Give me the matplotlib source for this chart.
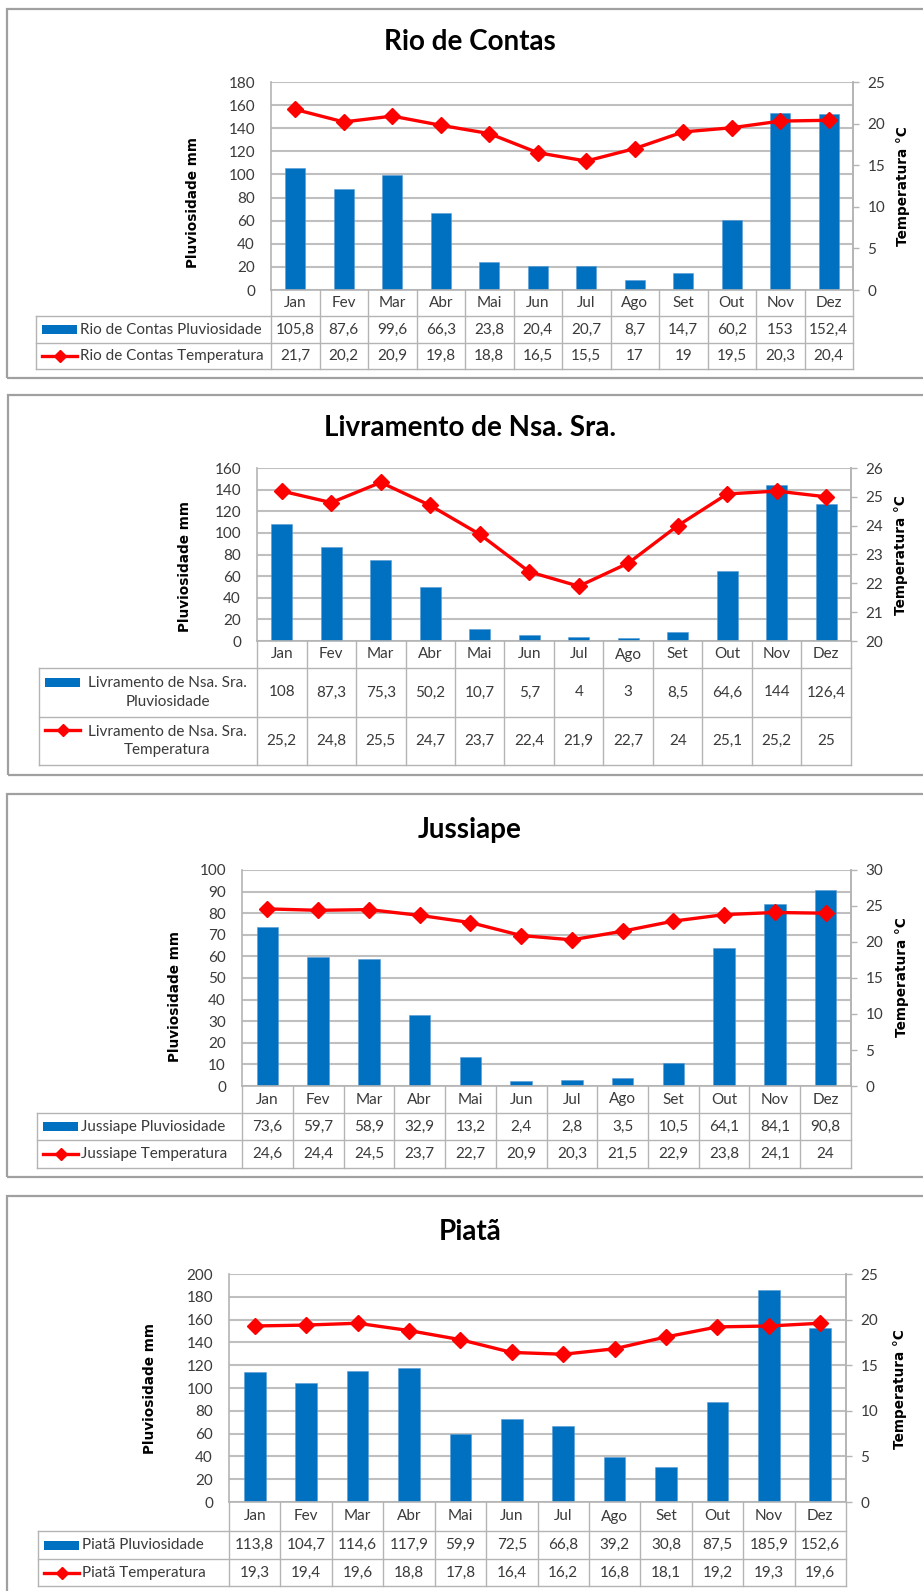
import matplotlib
matplotlib.use("Agg")
import matplotlib.pyplot as plt
import matplotlib.transforms as mtransforms
from matplotlib.lines import Line2D
from matplotlib.patches import Rectangle
import numpy as np

# ---------------------------------------------------------------- data
months = ["Jan", "Fev", "Mar", "Abr", "Mai", "Jun", "Jul", "Ago", "Set", "Out", "Nov", "Dez"]

stations = ["Rio de Contas", "Livramento de Nsa. Sra.", "Jussiape", "Piatã"]

rain_rio_de_contas = [105.8, 87.6, 99.6, 66.3, 23.8, 20.4, 20.7, 8.7, 14.7, 60.2, 153, 152.4]
temp_rio_de_contas = [21.7, 20.2, 20.9, 19.8, 18.8, 16.5, 15.5, 17, 19, 19.5, 20.3, 20.4]

rain_livramento = [108, 87.3, 75.3, 50.2, 10.7, 5.7, 4, 3, 8.5, 64.6, 144, 126.4]
temp_livramento = [25.2, 24.8, 25.5, 24.7, 23.7, 22.4, 21.9, 22.7, 24, 25.1, 25.2, 25]

rain_jussiape = [73.6, 59.7, 58.9, 32.9, 13.2, 2.4, 2.8, 3.5, 10.5, 64.1, 84.1, 90.8]
temp_jussiape = [24.6, 24.4, 24.5, 23.7, 22.7, 20.9, 20.3, 21.5, 22.9, 23.8, 24.1, 24]

rain_piata = [113.8, 104.7, 114.6, 117.9, 59.9, 72.5, 66.8, 39.2, 30.8, 87.5, 185.9, 152.6]
temp_piata = [19.3, 19.4, 19.6, 18.8, 17.8, 16.4, 16.2, 16.8, 18.1, 19.2, 19.3, 19.6]

rain_series = [rain_rio_de_contas, rain_livramento, rain_jussiape, rain_piata]
temp_series = [temp_rio_de_contas, temp_livramento, temp_jussiape, temp_piata]

# axis ranges: (min, max, step)
rain_axes = [(0, 180, 20), (0, 160, 20), (0, 100, 10), (0, 200, 20)]
temp_axes = [(0, 25, 5), (20, 26, 1), (0, 30, 5), (0, 25, 5)]

rain_label = "Pluviosidade mm"
temp_label = "Temperatura °C"

# ---------------------------------------------------------------- layout (pixels, y from top)
W, H = 923, 1591
layouts = [
    dict(box=(7, 9, 378), title=42, plot=(271, 853, 82, 290), rows=(316, 343, 369), tleft=36,
         ylab=(193, 202), y2lab=(903, 186), wrap=False),
    dict(box=(8, 395, 775), title=428, plot=(257, 851, 468, 641), rows=(668, 717, 765), tleft=39,
         ylab=(185, 567), y2lab=(901, 555), wrap=True),
    dict(box=(7, 794, 1177), title=830, plot=(242, 851, 870, 1086), rows=(1113, 1140, 1168), tleft=37,
         ylab=(175, 997), y2lab=(902, 977), wrap=False),
    dict(box=(7, 1196, 1620), title=1232, plot=(229, 846, 1274, 1502), rows=(1531, 1559, 1586), tleft=38,
         ylab=(150, 1388), y2lab=(900, 1389), wrap=False),
]

BLUE = "#0070C0"
RED = "#FF0000"
GRID = "#BFBFBF"
TABLE = "#B4B4B4"
BORDER = "#A0A0A0"
TXT = "#3a3a3a"
FONT = ["Lato", "DejaVu Sans"]
FS = 11

fig = plt.figure(figsize=(W / 100, H / 100), dpi=100)
fig.patch.set_facecolor("white")


def fx(px):
    return px / W


def fy(py):
    return 1 - py / H


def fmt(v):
    return f"{v:g}".replace(".", ",")


def fig_line(xs, ys, **kw):
    fig.add_artist(Line2D([fx(x) for x in xs], [fy(y) for y in ys], transform=fig.transFigure, **kw))


x = np.arange(len(months))

for name, rain, temp, ra, ta, L in zip(stations, rain_series, temp_series, rain_axes, temp_axes, layouts):
    bl, bt, bb = L["box"]
    fig.add_artist(Rectangle((fx(bl), fy(bb)), fx(940) - fx(bl), fy(bt) - fy(bb),
                             transform=fig.transFigure, fill=False, edgecolor=BORDER, lw=1.6))

    fig.text(fx(470), fy(L["title"]), name, ha="center", va="center",
             fontsize=20, fontweight="bold", family=FONT, color="black")

    pl, pr, pt, pb = L["plot"]
    ax = fig.add_axes([fx(pl), fy(pb), fx(pr) - fx(pl), fy(pt) - fy(pb)])
    ax.set_xlim(-0.5, len(months) - 0.5)
    ax.set_ylim(ra[0], ra[1])
    ax.set_yticks(np.arange(ra[0], ra[1] + ra[2] / 2, ra[2]))
    ax.bar(x, rain, width=0.42, color=BLUE, edgecolor="#5B9BD5", linewidth=0.4, zorder=2)
    ax.set_axisbelow(True)
    ax.yaxis.grid(True, color=GRID, lw=1.5)
    ax.set_xticks([])
    ax.tick_params(axis="y", length=0, pad=11.5, labelsize=FS, labelcolor=TXT)
    for lab in ax.get_yticklabels():
        lab.set_family(FONT)
    ax.spines["top"].set_visible(False)
    for s in ["left", "bottom", "right"]:
        ax.spines[s].set_color(TABLE)
        ax.spines[s].set_linewidth(1.2)

    ax2 = ax.twinx()
    ax2.set_ylim(ta[0], ta[1])
    ax2.set_yticks(np.arange(ta[0], ta[1] + ta[2] / 2, ta[2]))
    ax2.plot(x, temp, color=RED, lw=2.4, marker="D", ms=8, mfc=RED, mec=RED, zorder=3)
    ax2.tick_params(axis="y", length=4.5, width=1, color=TABLE, pad=6, labelsize=FS, labelcolor=TXT)
    for lab in ax2.get_yticklabels():
        lab.set_family(FONT)
    for s in ["top", "left", "bottom"]:
        ax2.spines[s].set_visible(False)
    ax2.spines["right"].set_color(TABLE)
    ax2.spines["right"].set_linewidth(1.2)

    # axis titles
    fig.text(fx(L["ylab"][0]), fy(L["ylab"][1]), rain_label, rotation=90, ha="center", va="center",
             fontsize=9.8, fontweight="bold", family="DejaVu Sans", color="black")
    fig.text(fx(L["y2lab"][0]), fy(L["y2lab"][1]), temp_label, rotation=90, ha="center", va="center",
             fontsize=9.8, fontweight="bold", family="DejaVu Sans", color="black")

    # data table below the plot
    hb, rs, tb = L["rows"]
    tl = L["tleft"]
    tr = mtransforms.blended_transform_factory(ax.transData, fig.transFigure)
    for b in np.arange(-0.5, len(months), 1.0):
        fig.add_artist(Line2D([b, b], [fy(pb), fy(tb)], transform=tr, color=TABLE, lw=1.0))
    fig_line([tl, tl], [hb, tb], color=TABLE, lw=1.0)
    for yy in (hb, rs, tb):
        fig_line([tl, pr], [yy, yy], color=TABLE, lw=1.0)

    for i, m in enumerate(months):
        fig.text(i, fy((pb + hb) / 2), m, transform=tr, ha="center", va="center",
                 fontsize=FS, family=FONT, color=TXT)
        fig.text(i, fy((hb + rs) / 2), fmt(rain[i]), transform=tr, ha="center", va="center",
                 fontsize=FS, family=FONT, color=TXT)
        fig.text(i, fy((rs + tb) / 2), fmt(temp[i]), transform=tr, ha="center", va="center",
                 fontsize=FS, family=FONT, color=TXT)

    # legend keys inside the label column
    r1 = (hb + rs) / 2
    r2 = (rs + tb) / 2
    if L["wrap"]:
        k1, k2 = r1 - 10.5, r2 - 11
    else:
        k1, k2 = r1, r2
    fig.add_artist(Rectangle((fx(tl + 6), fy(k1 + 4.5)), fx(tl + 41) - fx(tl + 6), 9 / H,
                             transform=fig.transFigure, color=BLUE, lw=0))
    fig.add_artist(Line2D([fx(tl + 6), fx(tl + 41)], [fy(k2), fy(k2)], transform=fig.transFigure,
                          color=RED, lw=2.4))
    fig.add_artist(Line2D([fx(tl + 23.5)], [fy(k2)], transform=fig.transFigure, marker="D", ms=6.5,
                          color=RED, lw=0))
    lab1 = f"{name} Pluviosidade"
    lab2 = f"{name} Temperatura"
    if L["wrap"]:
        cx = (tl + 45 + pl - 6) / 2
        fig.text(fx(cx), fy(r1), lab1.replace(" Pluviosidade", "\nPluviosidade"), ha="center", va="center",
                 multialignment="center", fontsize=FS, family=FONT, color=TXT, linespacing=1.45)
        fig.text(fx(cx), fy(r2), lab2.replace(" Temperatura", "\nTemperatura"), ha="center", va="center",
                 multialignment="center", fontsize=FS, family=FONT, color=TXT, linespacing=1.45)
    else:
        fig.text(fx(tl + 44), fy(r1), lab1, ha="left", va="center", fontsize=FS, family=FONT, color=TXT)
        fig.text(fx(tl + 44), fy(r2), lab2, ha="left", va="center", fontsize=FS, family=FONT, color=TXT)

fig.savefig("out.png", dpi=100, facecolor="white")
